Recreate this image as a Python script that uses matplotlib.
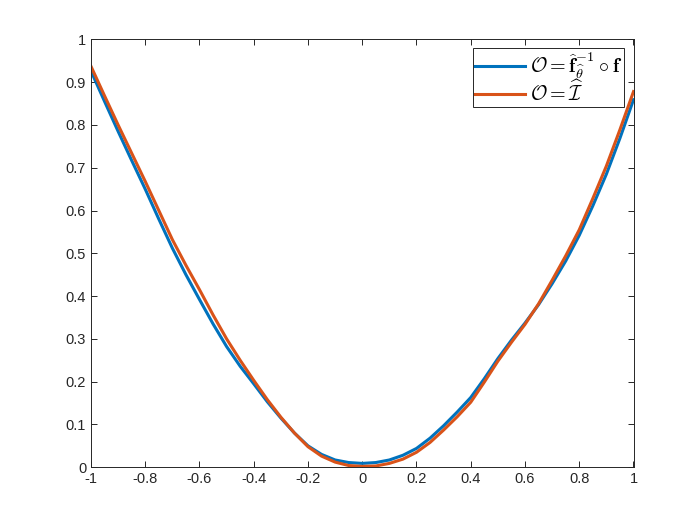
import numpy as np
import matplotlib.pyplot as plt

plt.rcParams['font.family'] = ['Liberation Sans', 'DejaVu Sans']
plt.rcParams['mathtext.fontset'] = 'cm'

x_vals = [-1.00, -0.95, -0.90, -0.85, -0.80, -0.75, -0.70, -0.65, -0.60, -0.55,
          -0.50, -0.45, -0.40, -0.35, -0.30, -0.25, -0.20, -0.15, -0.10, -0.05,
          0.00, 0.05, 0.10, 0.15, 0.20, 0.25, 0.30, 0.35, 0.40, 0.45,
          0.50, 0.55, 0.60, 0.65, 0.70, 0.75, 0.80, 0.85, 0.90, 0.95, 1.00]

learned = [0.926, 0.855, 0.785, 0.717, 0.650, 0.580, 0.512, 0.450, 0.392, 0.335,
           0.282, 0.236, 0.195, 0.153, 0.115, 0.080, 0.050, 0.030, 0.017, 0.011,
           0.009, 0.011, 0.017, 0.028, 0.044, 0.068, 0.097, 0.129, 0.163, 0.207,
           0.254, 0.297, 0.337, 0.380, 0.429, 0.482, 0.542, 0.611, 0.685, 0.769, 0.859]

identity = [0.937, 0.868, 0.800, 0.734, 0.668, 0.600, 0.532, 0.472, 0.415, 0.356,
            0.300, 0.250, 0.203, 0.158, 0.117, 0.080, 0.048, 0.026, 0.012, 0.004,
            0.002, 0.003, 0.009, 0.019, 0.035, 0.058, 0.087, 0.118, 0.152, 0.199,
            0.248, 0.292, 0.334, 0.382, 0.437, 0.494, 0.555, 0.628, 0.704, 0.789, 0.878]

labels = [r'$\mathcal{O} = \widehat{\mathbf{f}}^{\mathbf{-1}}_{\widehat{\theta}} \circ \mathbf{f}$',
          r'$\mathcal{O} = \widehat{\mathcal{I}}$']

fig = plt.figure(figsize=(7, 5.25), dpi=100)
ax = fig.add_axes([0.13, 0.11, 0.775, 0.815])

ax.plot(x_vals, learned, color='#0072BD', lw=2.2, label=labels[0])
ax.plot(x_vals, identity, color='#D95319', lw=2.2, label=labels[1])

ax.set_xlim(-1, 1)
ax.set_ylim(0, 1)
ax.set_xticks(np.arange(-1, 1.01, 0.2))
ax.set_yticks(np.arange(0, 1.01, 0.1))
ax.set_xticklabels(['-1', '-0.8', '-0.6', '-0.4', '-0.2', '0', '0.2', '0.4', '0.6', '0.8', '1'])
ax.set_yticklabels(['0', '0.1', '0.2', '0.3', '0.4', '0.5', '0.6', '0.7', '0.8', '0.9', '1'])

ax.tick_params(direction='in', top=True, right=True, length=4.5, width=0.7,
               labelsize=10.5, colors='#262626')
for s in ax.spines.values():
    s.set_color('#262626')
    s.set_linewidth(0.7)

leg = ax.legend(loc='upper right', fontsize=14.5, fancybox=False, framealpha=1,
                edgecolor='#262626', borderpad=0.1, handlelength=2.5,
                handletextpad=0.25, labelspacing=-0.05, borderaxespad=0.45)
leg.get_frame().set_linewidth(0.7)

fig.savefig('out.png', dpi=100)
